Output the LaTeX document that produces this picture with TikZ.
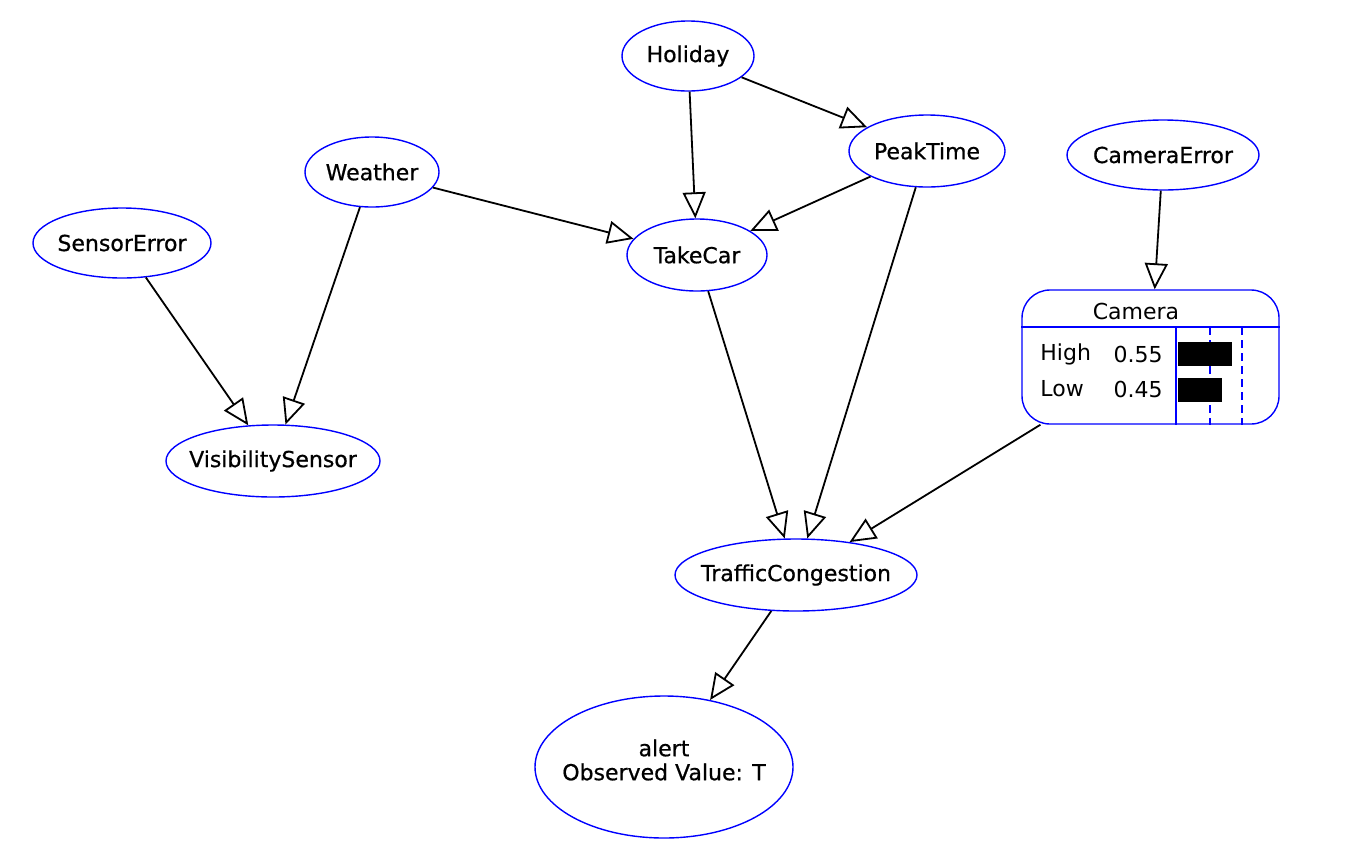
\documentclass[tikz,border=0pt]{standalone}
\usepackage{fontspec}
\setmainfont{DejaVu Sans}
\newfontfamily\labfont[FakeBold=0.7]{DejaVu Sans}
\usetikzlibrary{shapes.geometric,arrows.meta}
\begin{document}
\begin{tikzpicture}[x=0.5pt,y=-0.5pt,
 var/.style={ellipse, draw=blue, line width=0.7pt, inner sep=0pt},
 edge/.style={line width=0.9pt, -{Triangle[open,length=13pt,width=11.5pt]}},
 txt/.style={inner sep=0pt, font=\fontsize{11}{12}\selectfont},
 lab/.style={inner sep=0pt, font=\labfont\fontsize{11}{12}\selectfont},
]
\useasboundingbox (0,0) rectangle (1360,858);
\node[var, minimum width=66pt, minimum height=35pt] (holiday) at (688,56) {};
\node[var, minimum width=78pt, minimum height=36pt] (peak) at (927,151) {};
\node[var, minimum width=67pt, minimum height=35pt] (weather) at (372,172) {};
\node[var, minimum width=96pt, minimum height=35pt] (camerr) at (1163,155) {};
\node[var, minimum width=89pt, minimum height=35pt] (senserr) at (122,243) {};
\node[var, minimum width=70pt, minimum height=36pt] (takecar) at (697,255) {};
\node[var, minimum width=107pt, minimum height=36pt] (vis) at (273,461) {};
\node[var, minimum width=121pt, minimum height=36pt] (traffic) at (796,575) {};
\node[var, minimum width=129pt, minimum height=71pt] (alert) at (664,767) {};
\node[lab] (holidayt) at (holiday) {Holiday};
\node[lab] (peakt) at (peak) {PeakTime};
\node[lab] (weathert) at (weather) {Weather};
\node[lab] (camerrt) at (camerr) {CameraError};
\node[lab] (senserrt) at (senserr) {SensorError};
\node[lab] (takecart) at (takecar) {TakeCar};
\node[lab] (vist) at (vis) {VisibilitySensor};
\node[lab] (traffict) at (traffic) {TrafficCongestion};
\node[lab, align=center] (alertt) at (664,760) {alert\\Observed Value: T};
% Camera monitor box
\node[draw=blue, line width=0.7pt, rectangle, rounded corners=14pt, minimum width=128.5pt, minimum height=67pt, inner sep=0pt] (camera) at (1150.5,357) {};
\draw[blue, line width=0.7pt] (camera.west |- 0,327) coordinate (hl) -- (camera.east |- 0,327) coordinate (hr);
\draw[blue, line width=0.7pt] (1176,327) coordinate (vt) -- (vt |- camera.south);
\draw[blue, line width=0.7pt, dash pattern=on 4pt off 2.5pt] (1210,327) coordinate (d1) -- (d1 |- camera.south);
\draw[blue, line width=0.7pt, dash pattern=on 4pt off 2.5pt] (1242,327) coordinate (d2) -- (d2 |- camera.south);
\node[txt] (camtitle) at (1136,311) {Camera};
\node[txt, anchor=west] (hiname) at (1040,354) {High};
\node[txt, anchor=east] (hival) at (1163,354) {0.55};
\node[txt, anchor=west] (loname) at (1040,389) {Low};
\node[txt, anchor=east] (loval) at (1163,389) {0.45};
\fill[black] (1178,342) rectangle (1232,366);
\fill[black] (1178,378) rectangle (1222,402);
% edges
\draw[edge] (holiday) -- (takecar);
\draw[edge] (holiday) -- (peak);
\draw[edge] (peak) -- (takecar);
\draw[edge] (weather) -- (takecar);
\draw[edge] (weather) -- (vis);
\draw[edge] (senserr) -- (vis);
\draw[edge] (takecar) -- (traffic);
\draw[edge] (peak) -- (traffic);
\draw[edge] (camera) -- (traffic);
\draw[edge] (camerr) -- (camera);
\draw[edge] (traffic) -- (alert);
\end{tikzpicture}
\end{document}
